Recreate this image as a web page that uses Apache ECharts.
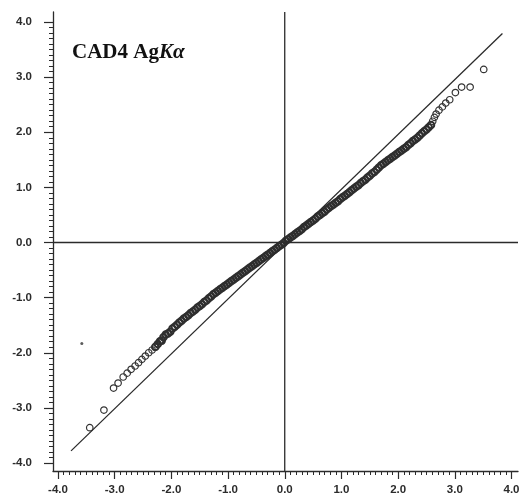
<!DOCTYPE html>
<html>
<head>
<meta charset="utf-8">
<script src="https://cdn.jsdelivr.net/npm/echarts@6/dist/echarts.min.js"></script>
<style>
  html, body { margin: 0; padding: 0; background: #fff; }
  #main { width: 525px; height: 504px; }
</style>
</head>
<body>
<div id="main"></div>
<script>
var tailLowX = [-3.44, -3.19, -3.02, -2.94, -2.85, -2.78, -2.71, -2.64, -2.58, -2.52, -2.46, -2.40, -2.34, -2.29];
var tailLowY = [-3.36, -3.04, -2.64, -2.55, -2.44, -2.37, -2.30, -2.24, -2.18, -2.12, -2.06, -2.00, -1.95, -1.90];

var bandLowX = [-2.28, -2.24, -2.20, -2.17, -2.14, -2.10, -2.06, -2.02, -1.98, -1.94, -1.90, -1.86, -1.82, -1.78, -1.74,
  -1.70, -1.66, -1.62, -1.58, -1.54, -1.50, -1.46, -1.42, -1.38, -1.34, -1.30, -1.26, -1.22, -1.18, -1.14, -1.10,
  -1.06, -1.02, -0.98, -0.94, -0.90, -0.86, -0.82, -0.78, -0.74, -0.70, -0.66, -0.62, -0.58, -0.54, -0.50, -0.46,
  -0.42, -0.38, -0.34, -0.30, -0.26, -0.22, -0.18, -0.14, -0.10, -0.06, -0.02];
var bandLowY = [-1.89, -1.84, -1.79, -1.78, -1.72, -1.67, -1.65, -1.62, -1.56, -1.53, -1.49, -1.45, -1.42, -1.38, -1.35,
  -1.32, -1.28, -1.25, -1.22, -1.18, -1.15, -1.12, -1.08, -1.05, -1.01, -0.98, -0.94, -0.91, -0.88, -0.85, -0.82,
  -0.79, -0.76, -0.73, -0.70, -0.67, -0.64, -0.61, -0.58, -0.55, -0.52, -0.49, -0.46, -0.43, -0.40, -0.37, -0.34,
  -0.31, -0.28, -0.25, -0.22, -0.19, -0.16, -0.13, -0.10, -0.07, -0.04, -0.01];

var bandHighX = [0.02, 0.06, 0.10, 0.14, 0.18, 0.22, 0.26, 0.30, 0.34, 0.38, 0.42, 0.46, 0.50, 0.54, 0.58, 0.62,
  0.66, 0.70, 0.74, 0.78, 0.82, 0.86, 0.90, 0.94, 0.98, 1.02, 1.06, 1.10, 1.14, 1.18, 1.22, 1.26, 1.30, 1.34,
  1.38, 1.42, 1.46, 1.50, 1.54, 1.58, 1.62, 1.66, 1.70, 1.74, 1.78, 1.82, 1.86, 1.90, 1.94, 1.98, 2.02, 2.06,
  2.10, 2.14, 2.18, 2.22, 2.26, 2.30, 2.34, 2.38, 2.42, 2.46, 2.50, 2.54, 2.58];
var bandHighY = [0.03, 0.06, 0.09, 0.12, 0.15, 0.18, 0.21, 0.24, 0.28, 0.31, 0.34, 0.37, 0.40, 0.43, 0.47, 0.50,
  0.53, 0.56, 0.60, 0.63, 0.66, 0.69, 0.72, 0.75, 0.79, 0.82, 0.85, 0.88, 0.91, 0.95, 0.98, 1.01, 1.04, 1.08,
  1.11, 1.14, 1.18, 1.21, 1.25, 1.28, 1.32, 1.36, 1.40, 1.43, 1.46, 1.49, 1.52, 1.55, 1.58, 1.61, 1.64, 1.67,
  1.70, 1.73, 1.77, 1.80, 1.84, 1.87, 1.90, 1.94, 1.98, 2.02, 2.05, 2.09, 2.13];

var tailHighX = [2.61, 2.64, 2.67, 2.72, 2.78, 2.84, 2.91, 3.01, 3.12, 3.27, 3.51];
var tailHighY = [2.20, 2.27, 2.33, 2.40, 2.46, 2.53, 2.59, 2.72, 2.82, 2.82, 3.14];

// stray dot left of the lower tail
var dotX = [-3.58];
var dotY = [-1.83];

// reference line y = x
var diagX = [-3.77, 3.84];
var diagY = [-3.78, 3.79];

// tick range, and the slightly larger frame that the axis lines span
var axisMin = -4, axisMax = 4, tickStep = 1;
var frameX = [-4.088, 4.115];
var frameY = [-4.145, 4.181];

function pairs(xs, ys) {
    var out = [];
    for (var i = 0; i < xs.length; i++) {
        out.push([xs[i], ys[i]]);
    }
    return out;
}

function initChart() {
    var myChart = echarts.init(document.getElementById('main'));
    var ink = '#2b2b2b';
    var labelFont = { color: ink, fontFamily: 'Liberation Sans', fontWeight: 'bold', fontSize: 11.5 };
    var fmt = function (v) { return v.toFixed(1); };

    var tails = pairs(tailLowX, tailLowY).concat(pairs(tailHighX, tailHighY));
    var band = pairs(bandLowX, bandLowY).concat(pairs(bandHighX, bandHighY));

    var lineStyle = { color: ink, width: 1.3 };
    // lines of the outer frame grid (index 1)
    var frameLine = function (data) {
        return { type: 'line', xAxisIndex: 1, yAxisIndex: 1, symbol: 'none', silent: true, lineStyle: lineStyle, data: data };
    };

    // tick axes (grid 0), pushed out onto the frame lines with offset
    var tickAxis = {
        gridIndex: 0, type: 'value', min: axisMin, max: axisMax, interval: tickStep,
        splitLine: { show: false },
        axisLine: { show: false, onZero: false },
        axisTick: { show: true, length: 8, lineStyle: { color: ink, width: 1.2 } },
        minorTick: { show: true, splitNumber: 10, length: 4, lineStyle: { color: ink, width: 1 } }
    };
    // frame axes (grid 1): only the axis line
    var frameAxis = {
        gridIndex: 1, type: 'value',
        splitLine: { show: false },
        axisLine: { show: true, onZero: false, lineStyle: { color: ink, width: 1.3 } },
        axisTick: { show: false },
        axisLabel: { show: false }
    };

    var option = {
        animation: false,
        backgroundColor: '#fff',
        title: {
            left: 67,
            top: 37,
            text: '{a|CAD4 Ag}{b|K\u03b1}',
            textStyle: {
                rich: {
                    a: { fontFamily: 'Liberation Serif', fontWeight: 'bold', fontSize: 21, color: '#111' },
                    b: { fontFamily: 'Liberation Serif', fontWeight: 'bold', fontStyle: 'italic', fontSize: 21, color: '#111' }
                }
            }
        },
        grid: [
            { left: 58, right: 13.5, top: 22, bottom: 41 },
            { left: 53, right: 7, top: 12, bottom: 33 }
        ],
        xAxis: [
            Object.assign({}, tickAxis, {
                position: 'bottom', offset: 8,
                axisLabel: Object.assign({ margin: 13, formatter: fmt }, labelFont)
            }),
            Object.assign({}, frameAxis, { position: 'bottom', min: frameX[0], max: frameX[1] })
        ],
        yAxis: [
            Object.assign({}, tickAxis, {
                position: 'left', offset: 5,
                axisTick: { show: true, length: 9, lineStyle: { color: ink, width: 1.2 } },
                axisLabel: Object.assign({ margin: 21, formatter: fmt }, labelFont)
            }),
            Object.assign({}, frameAxis, { position: 'left', min: frameY[0], max: frameY[1] })
        ],
        series: [
            // zero lines across the full frame
            frameLine([[0, frameY[0]], [0, frameY[1]]]),
            frameLine([[frameX[0], 0], [frameX[1], 0]]),
            {
                // y = x
                type: 'line', symbol: 'none', silent: true, lineStyle: lineStyle,
                data: pairs(diagX, diagY)
            }, {
                // dense middle: overlapping circles merge into a thick band
                type: 'scatter', symbol: 'circle', symbolSize: 6.5,
                itemStyle: { color: 'rgba(0,0,0,0)', borderColor: '#2e2e2e', borderWidth: 2, opacity: 1 },
                data: band
            }, {
                type: 'scatter', symbol: 'circle', symbolSize: 6.5,
                itemStyle: { color: 'rgba(0,0,0,0)', borderColor: '#333', borderWidth: 1.2, opacity: 1 },
                data: tails
            }, {
                type: 'scatter', symbol: 'circle', symbolSize: 3,
                itemStyle: { color: '#333' },
                data: pairs(dotX, dotY)
            }
        ]
    };

    myChart.setOption(option);
}

initChart();
</script>
</body>
</html>
